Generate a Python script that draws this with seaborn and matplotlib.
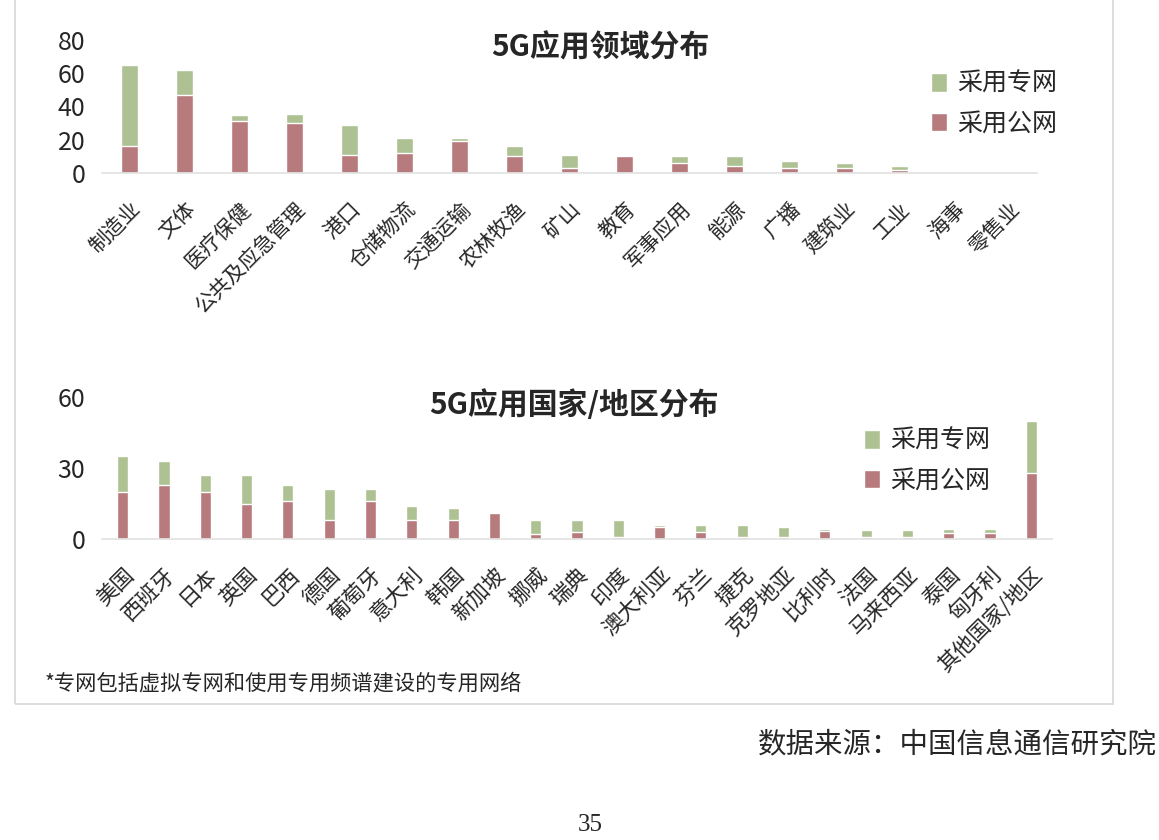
import matplotlib
matplotlib.use("Agg")
import matplotlib.pyplot as plt
from matplotlib.patches import Patch, Rectangle
import seaborn as sns

# 5G应用领域分布
field_names = ["制造业", "文体", "医疗保健", "公共及应急管理", "港口", "仓储物流",
               "交通运输", "农林牧渔", "矿山", "教育", "军事应用", "能源", "广播",
               "建筑业", "工业", "海事", "零售业"]
field_public = [16, 47, 31, 30, 11, 12, 19, 10, 3, 10, 6, 4, 3, 3, 2, 0.4, 0.4]
field_private = [49, 15, 4, 5.5, 18, 9, 2, 6, 8, 0, 4, 6, 4.5, 3, 2.5, 0, 0]
field_ticks = [0, 20, 40, 60, 80]

# 5G应用国家/地区分布
region_names = ["美国", "西班牙", "日本", "英国", "巴西", "德国", "葡萄牙", "意大利",
                "韩国", "新加坡", "挪威", "瑞典", "印度", "澳大利亚", "芬兰", "捷克",
                "克罗地亚", "比利时", "法国", "马来西亚", "泰国", "匈牙利", "其他国家/地区"]
region_public = [20, 23, 20, 15, 16, 8, 16, 8, 8, 11, 2, 3, 1, 5, 3, 1, 1, 3.3, 1, 1,
                 2.6, 2.6, 28]
region_private = [15, 10, 7, 12, 7, 13, 5, 6, 5, 0, 6, 5, 7, 1, 3, 5, 4, 1.1, 3, 3,
                  1.8, 1.8, 22]
region_ticks = [0, 30, 60]

GREEN = "#AEC193"
RED = "#B77B7D"
W, H = 1159, 840

sns.set_theme(style="white")
plt.rcParams["font.family"] = ["Noto Sans CJK SC", "DejaVu Sans"]


def px_box(left, right, y0, y1):
    """Axes rect from pixel coords (y measured from the top)."""
    return [left / W, 1 - y0 / H, (right - left) / W, (y0 - y1) / H]


def draw_stack(ax, names, public, private, ticks, width, label_size, title,
               title_x, title_y, leg_x, leg_y):
    totals = [a + b for a, b in zip(public, private)]
    sns.barplot(x=names, y=totals, color=GREEN, width=width, saturation=1,
                errorbar=None, ax=ax)
    sns.barplot(x=names, y=public, color=RED, width=width, saturation=1,
                errorbar=None, ax=ax)
    ax.set_ylim(0, ticks[-1])
    ax.set_yticks(ticks)
    ax.set_xlabel("")
    ax.set_ylabel("")
    ax.tick_params(axis="y", labelsize=18, length=0, pad=12)
    ax.tick_params(axis="x", labelsize=label_size, length=0, pad=18)
    plt.setp(ax.get_xticklabels(), rotation=45, ha="right", va="top",
             rotation_mode="anchor")
    for side in ["top", "right", "left"]:
        ax.spines[side].set_visible(False)
    ax.spines["bottom"].set_color("#E3E3E3")
    ax.patch.set_alpha(0)
    fig.text(title_x / W, 1 - title_y / H, title, fontsize=21.5, fontweight="bold",
             ha="center", va="center")
    handles = [Patch(facecolor=GREEN, label="采用专网"),
               Patch(facecolor=RED, label="采用公网")]
    fig.legend(handles=handles, loc="center left",
               bbox_to_anchor=(leg_x / W, 1 - leg_y / H), frameon=False,
               fontsize=18, handlelength=0.65, handleheight=0.75,
               handletextpad=0.4, labelspacing=0.55, borderpad=0, borderaxespad=0)


fig = plt.figure(figsize=(W / 100, H / 100), dpi=100)
fig.patches.append(Rectangle((15 / W, 1 - 704 / H), 1098 / W, 720 / H,
                             transform=fig.transFigure, facecolor="none",
                             edgecolor="#DADADA", linewidth=1.3, zorder=0))

ax_top = fig.add_axes(px_box(102, 1037, 173, 40))
draw_stack(ax_top, field_names, field_public, field_private, field_ticks, 0.31, 15,
           "5G应用领域分布", 600, 47, 931, 104)

ax_bot = fig.add_axes(px_box(102, 1052, 539, 397))
draw_stack(ax_bot, region_names, region_public, region_private, region_ticks, 0.27,
           15.5, "5G应用国家/地区分布", 574, 405, 864, 461)

fig.text(45 / W, 1 - 683 / H, "*专网包括虚拟专网和使用专用频谱建设的专用网络",
         fontsize=15.3, ha="left", va="center")
fig.text(1157 / W, 1 - 744 / H, "数据来源：中国信息通信研究院", fontsize=20.5,
         ha="right", va="center")
fig.text(590 / W, 1 - 825 / H, "35", fontsize=18, family="Liberation Serif",
         ha="center", va="center")

fig.savefig("out.png", dpi=100)
